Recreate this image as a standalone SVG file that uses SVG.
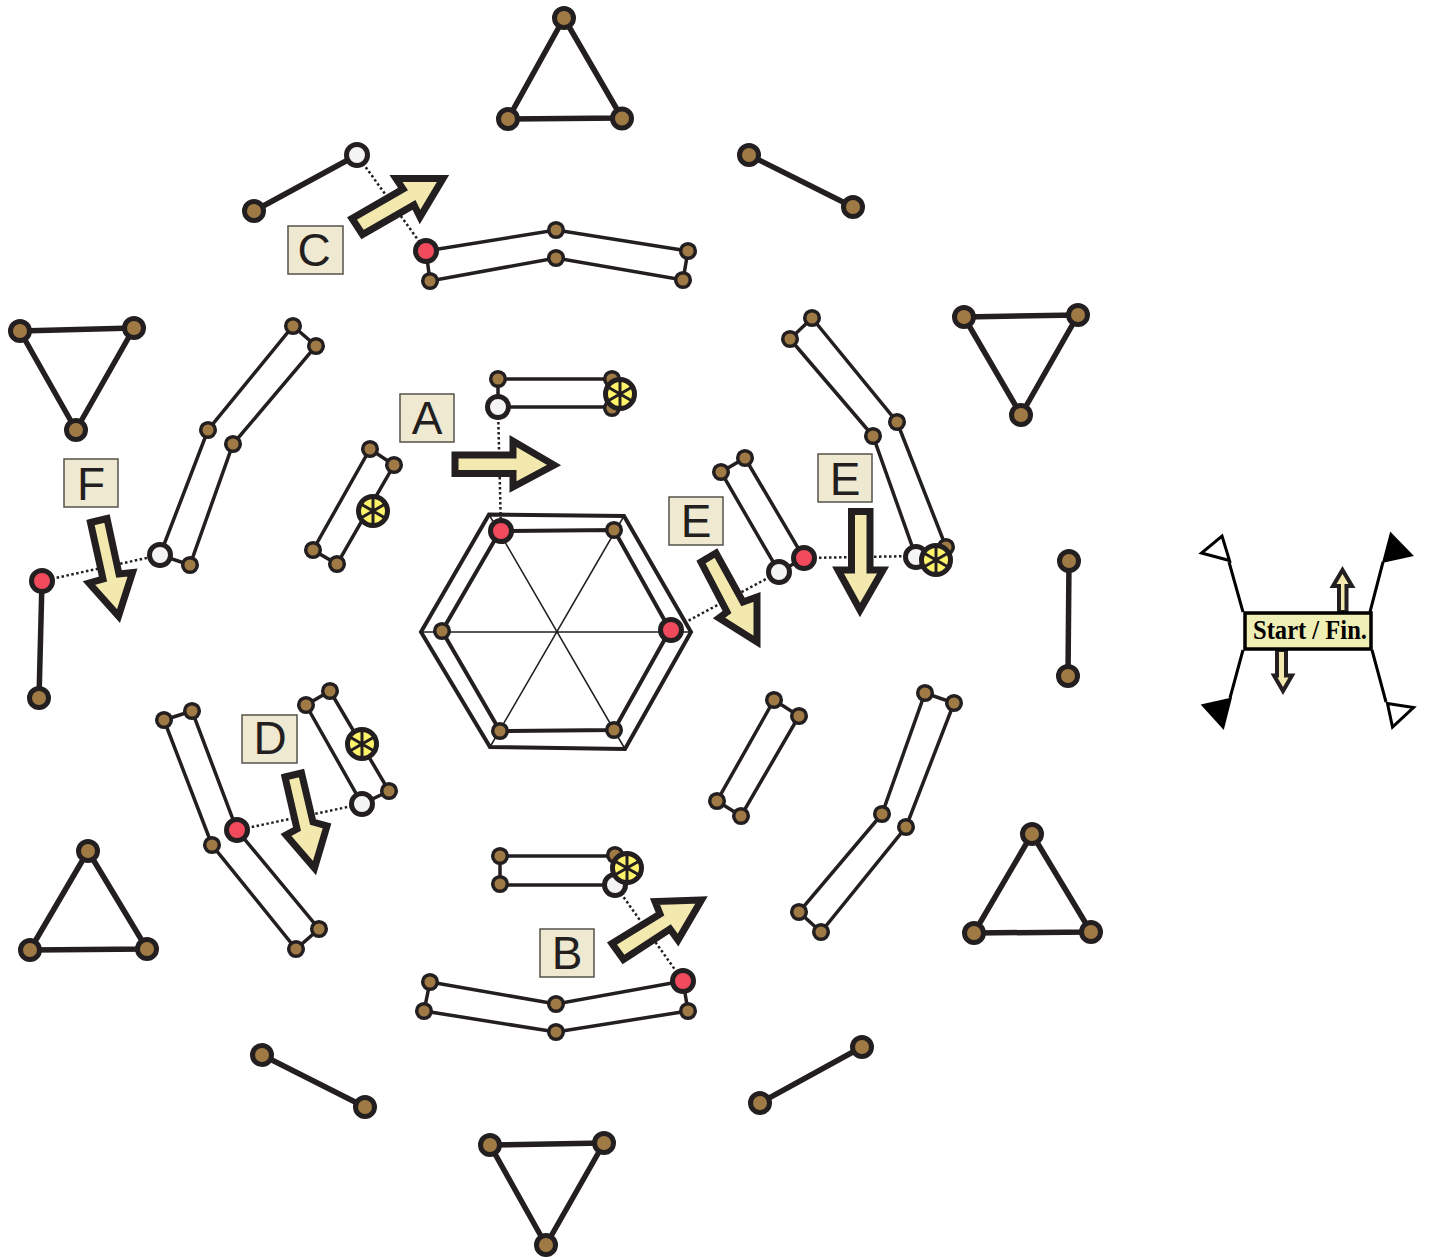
<svg xmlns="http://www.w3.org/2000/svg" width="1430" height="1259" viewBox="0 0 1430 1259">
<style>
.t{fill:none;stroke:#231f20;stroke-width:5.5;stroke-linejoin:round}
.b{fill:none;stroke:#231f20;stroke-width:3.5}
.h{fill:none;stroke:#231f20;stroke-width:4}
.s{fill:none;stroke:#231f20;stroke-width:1.5}
.d{fill:none;stroke:#231f20;stroke-width:2.5;stroke-dasharray:2.5 2.5}
.bn{fill:#a07a45;stroke:#231f20;stroke-width:5}
.sn{fill:#a07a45;stroke:#231f20;stroke-width:3.5}
.rn{fill:#f04a5c;stroke:#231f20;stroke-width:5}
.wn{fill:#f4f4f4;stroke:#231f20;stroke-width:5}
.yn{fill:#fff36b;stroke:#231f20;stroke-width:5}
.sp{stroke:#231f20;stroke-width:3;fill:none}
.ar{fill:#f3e9ae;stroke:#231f20;stroke-width:7;stroke-miterlimit:10}
.ar2{fill:#f3e9ae;stroke:#231f20;stroke-width:4;stroke-miterlimit:10}
.lb{fill:#efe9d2;stroke:#55524a;stroke-width:1.5}
.lt{font-family:"Liberation Sans",Arial,sans-serif;font-size:46px;fill:#231f20;text-anchor:middle}
.fl{stroke:#000;stroke-width:3;fill:none}
.fb{fill:#000;stroke:#000;stroke-width:3}
.fw{fill:#fff;stroke:#000;stroke-width:3}
</style>
<defs>
<g id="wheel"><circle r="14.500" class="yn"/><path class="sp" d="M0-13V13M-11.300-6.500L11.300 6.500M-11.300 6.500L11.300-6.500"/></g>
</defs>

<g id="connectors">
<path class="d" d="M357 155L426 251"/>
<path class="d" d="M498 407L501 531"/>
<path class="d" d="M671 630L779 572"/>
<path class="d" d="M804 558L916 556"/>
<path class="d" d="M42 581L160 555"/>
<path class="d" d="M237 830L362 804"/>
<path class="d" d="M615 885L683 981"/>
</g>

<g id="tri-top"><path class="t" d="M564 18L622 118L508 119Z"/><circle class="bn" cx="564" cy="18" r="9.500"/><circle class="bn" cx="622" cy="118.500" r="9.500"/><circle class="bn" cx="508" cy="119" r="9.500"/></g>
<g id="tri-ne"><path class="t" d="M964 317L1078 315L1021 415Z"/><circle class="bn" cx="964" cy="317" r="9.500"/><circle class="bn" cx="1078" cy="315" r="9.500"/><circle class="bn" cx="1021" cy="415" r="9.500"/></g>
<g id="tri-se"><path class="t" d="M1032 834L1091 932L974 933Z"/><circle class="bn" cx="1032" cy="834" r="9.500"/><circle class="bn" cx="1091" cy="932" r="9.500"/><circle class="bn" cx="974" cy="933" r="9.500"/></g>
<g id="tri-bottom"><path class="t" d="M490 1145L604 1143L546 1245Z"/><circle class="bn" cx="490" cy="1145" r="9.500"/><circle class="bn" cx="604" cy="1143" r="9.500"/><circle class="bn" cx="546" cy="1245" r="9.500"/></g>
<g id="tri-sw"><path class="t" d="M88 851L147 949L30 950Z"/><circle class="bn" cx="88" cy="851" r="9.500"/><circle class="bn" cx="147" cy="949" r="9.500"/><circle class="bn" cx="30" cy="950" r="9.500"/></g>
<g id="tri-nw"><path class="t" d="M20 331L134 328L76 430Z"/><circle class="bn" cx="20" cy="331" r="9.500"/><circle class="bn" cx="134" cy="328" r="9.500"/><circle class="bn" cx="76" cy="430" r="9.500"/></g>

<g id="bar-ne"><path class="t" d="M749 155L853 207"/><circle class="bn" cx="749" cy="155" r="9.500"/><circle class="bn" cx="853" cy="207" r="9.500"/></g>
<g id="bar-e"><path class="t" d="M1069 561L1068 676"/><circle class="bn" cx="1069" cy="561" r="9.500"/><circle class="bn" cx="1068" cy="676" r="9.500"/></g>
<g id="bar-se"><path class="t" d="M760 1103L862 1047"/><circle class="bn" cx="760" cy="1103" r="9.500"/><circle class="bn" cx="862" cy="1047" r="9.500"/></g>
<g id="bar-sw"><path class="t" d="M262 1055L365 1107"/><circle class="bn" cx="262" cy="1055" r="9.500"/><circle class="bn" cx="365" cy="1107" r="9.500"/></g>
<g id="bar-w"><path class="t" d="M42 581L39 698"/><circle class="bn" cx="39" cy="698" r="9.500"/><circle class="rn" cx="42" cy="581" r="10.500"/></g>
<g id="bar-nw"><path class="t" d="M357 155L254 211"/><circle class="bn" cx="254" cy="211" r="9.500"/><circle class="wn" cx="357" cy="155" r="10.500"/></g>

<g id="hexagon">
<path class="h" d="M489 514.500L624 516L691 632L625 749L490 747L421 632Z"/>
<path class="h" d="M500 531L614 530L670 630L614 730L500 731L442 631Z"/>
<path class="s" d="M489 514.500L625 749M624 516L490 747M421 632H691"/>
<circle class="rn" cx="501" cy="531" r="10.500"/><circle class="sn" cx="614" cy="530" r="7.300"/><circle class="rn" cx="671" cy="630" r="10.500"/><circle class="sn" cx="614" cy="730" r="7.300"/><circle class="sn" cx="500" cy="731" r="7.300"/><circle class="sn" cx="442" cy="631" r="7.300"/>
</g>

<g id="link-top-inner"><path class="b" d="M498 379H612L613 407H498Z"/><circle class="sn" cx="498" cy="379" r="7.300"/><circle class="sn" cx="612" cy="379" r="7.300"/><circle class="sn" cx="612" cy="408" r="7.300"/><circle class="wn" cx="498" cy="407" r="10.500"/><use href="#wheel" x="620" y="394"/></g>
<g id="link-nw-inner"><path class="b" d="M370 449L394 465L337 564L313 550Z"/><circle class="sn" cx="370" cy="449" r="7.300"/><circle class="sn" cx="394" cy="465" r="7.300"/><circle class="sn" cx="337" cy="564" r="7.300"/><circle class="sn" cx="313" cy="550" r="7.300"/><use href="#wheel" x="373" y="511"/></g>
<g id="link-ne-inner"><path class="b" d="M721 472L745 458L804 558L779 572Z"/><circle class="sn" cx="721" cy="472" r="7.300"/><circle class="sn" cx="745" cy="458" r="7.300"/><circle class="wn" cx="779" cy="572" r="10.500"/><circle class="rn" cx="804" cy="558" r="10.500"/></g>
<g id="link-se-inner"><path class="b" d="M774 700L799 716L741 816L717 801Z"/><circle class="sn" cx="774" cy="700" r="7.300"/><circle class="sn" cx="799" cy="716" r="7.300"/><circle class="sn" cx="741" cy="816" r="7.300"/><circle class="sn" cx="717" cy="801" r="7.300"/></g>
<g id="link-bottom-inner"><path class="b" d="M500 856H615L615 885H500Z"/><circle class="sn" cx="500" cy="856" r="7.300"/><circle class="sn" cx="500" cy="884" r="7.300"/><circle class="sn" cx="615" cy="855" r="7.300"/><circle class="wn" cx="615" cy="885" r="10.500"/><use href="#wheel" x="627" y="868"/></g>
<g id="link-sw-inner"><path class="b" d="M306 705L330 691L389 791L362 804Z"/><circle class="sn" cx="306" cy="705" r="7.300"/><circle class="sn" cx="330" cy="691" r="7.300"/><circle class="sn" cx="389" cy="791" r="7.300"/><circle class="wn" cx="362" cy="804" r="10.500"/><use href="#wheel" x="362" y="744"/></g>

<g id="link-top-outer"><path class="b" d="M426 251L556 230L688 251L683 280L556 258L430 281Z"/><circle class="rn" cx="426" cy="251" r="10.500"/><circle class="sn" cx="556" cy="230" r="7.300"/><circle class="sn" cx="688" cy="251" r="7.300"/><circle class="sn" cx="683" cy="280" r="7.300"/><circle class="sn" cx="556" cy="258" r="7.300"/><circle class="sn" cx="430" cy="281" r="7.300"/></g>
<g id="link-ne-outer"><path class="b" d="M812 318L897 422L946 547L916 557L873 436L790 339Z"/><circle class="sn" cx="812" cy="318" r="7.300"/><circle class="sn" cx="790" cy="339" r="7.300"/><circle class="sn" cx="897" cy="422" r="7.300"/><circle class="sn" cx="873" cy="436" r="7.300"/><circle class="sn" cx="946" cy="547" r="7.300"/><circle class="wn" cx="916" cy="557" r="10.500"/><use href="#wheel" x="936" y="560"/></g>
<g id="link-se-outer"><path class="b" d="M925 693L954 703L906 827L821 932L799 912L882 814Z"/><circle class="sn" cx="925" cy="693" r="7.300"/><circle class="sn" cx="954" cy="703" r="7.300"/><circle class="sn" cx="906" cy="827" r="7.300"/><circle class="sn" cx="882" cy="814" r="7.300"/><circle class="sn" cx="821" cy="932" r="7.300"/><circle class="sn" cx="799" cy="912" r="7.300"/></g>
<g id="link-bottom-outer"><path class="b" d="M430 982L556 1004L683 981L688 1011L556 1032L424 1011Z"/><circle class="sn" cx="430" cy="982" r="7.300"/><circle class="sn" cx="556" cy="1004" r="7.300"/><circle class="rn" cx="683" cy="981" r="10.500"/><circle class="sn" cx="688" cy="1011" r="7.300"/><circle class="sn" cx="556" cy="1032" r="7.300"/><circle class="sn" cx="424" cy="1011" r="7.300"/></g>
<g id="link-sw-outer"><path class="b" d="M164 720L192 711L237 830L319 929L296 949L212 845Z"/><circle class="sn" cx="164" cy="720" r="7.300"/><circle class="sn" cx="192" cy="711" r="7.300"/><circle class="sn" cx="212" cy="845" r="7.300"/><circle class="sn" cx="319" cy="929" r="7.300"/><circle class="sn" cx="296" cy="949" r="7.300"/><circle class="rn" cx="237" cy="830" r="10.500"/></g>
<g id="link-nw-outer"><path class="b" d="M293 326L316 346L233 444L190 565L160 555L208 430Z"/><circle class="sn" cx="293" cy="326" r="7.300"/><circle class="sn" cx="316" cy="346" r="7.300"/><circle class="sn" cx="233" cy="444" r="7.300"/><circle class="sn" cx="208" cy="430" r="7.300"/><circle class="sn" cx="190" cy="565" r="7.300"/><circle class="wn" cx="160" cy="555" r="10.500"/></g>

<g id="arrow-a"><path class="ar" d="M455 455H513V441L554 465L513 487V473.500H455Z"/></g>
<g id="arrow-b"><path class="ar" d="M612 943.500L660 914L655 901.500L701.500 900L678 940L670 929L623.500 959.500Z"/></g>
<g id="arrow-c"><path class="ar" d="M352 218.500L403 189L396 178.500H443L420 217L414 205L362.500 234.500Z"/></g>
<g id="arrow-d"><path class="ar" d="M285 777L301.500 773L313 822L327 826L314.500 868L286 835L297 829Z"/></g>
<g id="arrow-e1"><path class="ar" d="M701 562L716 553L743 602L757 597V642L719 618L727 612Z"/></g>
<g id="arrow-e2"><path class="ar" d="M851.500 511.500H870V570H883L860 610L838 570H851.500Z"/></g>
<g id="arrow-f"><path class="ar" d="M90.500 522.500L107 518.500L119 574L132.500 572.500L118.500 616L89 583L103 579Z"/></g>

<g id="label-a"><rect class="lb" x="400" y="394" width="54" height="48"/><text class="lt" x="427" y="434">A</text></g>
<g id="label-b"><rect class="lb" x="540" y="929" width="54" height="48"/><text class="lt" x="567" y="969">B</text></g>
<g id="label-c"><rect class="lb" x="288" y="226" width="55" height="48"/><text class="lt" x="314" y="266">C</text></g>
<g id="label-d"><rect class="lb" x="242" y="715" width="55" height="48"/><text class="lt" x="270" y="754">D</text></g>
<g id="label-e1"><rect class="lb" x="669" y="497" width="54" height="48"/><text class="lt" x="696" y="537">E</text></g>
<g id="label-e2"><rect class="lb" x="818" y="454" width="54" height="48"/><text class="lt" x="845" y="495">E</text></g>
<g id="label-f"><rect class="lb" x="64" y="459" width="54" height="48"/><text class="lt" x="91" y="500">F</text></g>

<g id="start-fin">
<path class="fl" d="M1243 612L1229 562M1370 612L1383 562M1243 650L1230 698M1372 650L1386 702"/>
<path class="fw" d="M1222 536L1229.500 560.500L1201.500 553Z"/>
<path class="fb" d="M1391 534.500L1411 555L1384 561Z"/>
<path class="fb" d="M1230 699.500L1223 727L1203.500 705.500Z"/>
<path class="fw" d="M1387.500 703.500L1413.500 707.500L1392.500 727Z"/>
<path class="ar2" d="M1339 612V586H1333L1342.500 570L1352 586H1346.500V612Z"/>
<path class="ar2" d="M1277 650V675.500H1274L1283 691L1292 675.500H1286V650Z"/>
<rect x="1245" y="613" width="126" height="36" fill="#efefb5" stroke="#000" stroke-width="3.500"/>
<text x="1310" y="639" font-family="'Liberation Serif',serif" font-weight="700" font-size="27" text-anchor="middle" fill="#000" textLength="114" lengthAdjust="spacingAndGlyphs">Start / Fin.</text>
</g>
</svg>
